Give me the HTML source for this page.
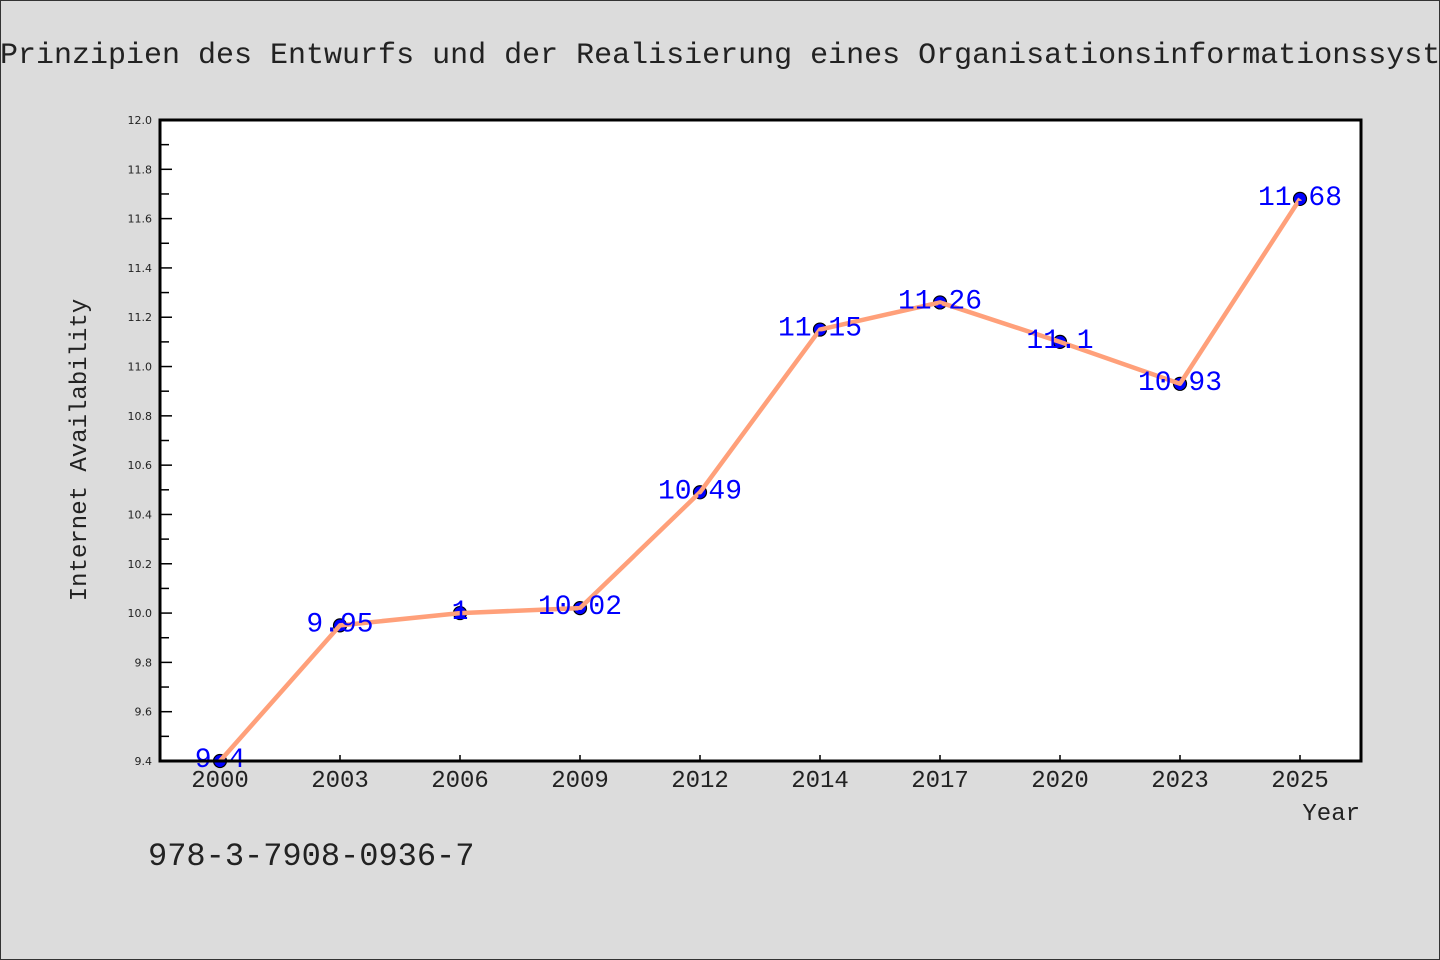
<!DOCTYPE html>
<html><head><meta charset="utf-8"><style>
body{margin:0;background:#dcdcdc;}
svg{display:block;}
text{font-family:"WenQuanYi Zen Hei Mono","WenQuanYi Zen Hei","Liberation Mono",monospace;}
</style></head><body>
<svg width="1440" height="960" xmlns="http://www.w3.org/2000/svg">
<rect x="0.5" y="0.5" width="1439" height="959" fill="#dcdcdc" stroke="#333"/>
<text x="0" y="63" font-size="30" fill="#222">Prinzipien des Entwurfs und der Realisierung eines Organisationsinformationssystems</text>
<rect x="160" y="120" width="1201" height="641" fill="#fff"/>
<g id="ticks"></g>
<g id="marks"></g>
<rect x="160" y="120" width="1201" height="641" fill="none" stroke="#000" stroke-width="3"/>
<text x="86" y="450" font-size="24" fill="#222" text-anchor="middle" transform="rotate(-90 86 450)">Internet Availability</text>
<text x="1360" y="820" font-size="24" fill="#222" text-anchor="end">Year</text>
<text x="148" y="865" font-size="32" fill="#222">978-3-7908-0936-7</text>
</svg>
<script>
const categories=["2000","2003","2006","2009","2012","2014","2017","2020","2023","2025"];
const values=[9.4,9.95,10.0,10.02,10.49,11.15,11.26,11.1,10.93,11.68];
const labels=["9.4","9.95","1","10.02","10.49","11.15","11.26","11.1","10.93","11.68"];
const yTicks=["9.4","9.6","9.8","10.0","10.2","10.4","10.6","10.8","11.0","11.2","11.4","11.6","11.8","12.0"];
const NS="http://www.w3.org/2000/svg";
const yMin=9.4,yMax=12.0,plotTop=120,plotBot=761;
function y(v){return plotBot-(v-yMin)/(yMax-yMin)*(plotBot-plotTop);}
function x(i){return 220+i*120;}
function mk(tag,attrs,parent){const e=document.createElementNS(NS,tag);for(const k in attrs)e.setAttribute(k,attrs[k]);parent.appendChild(e);return e;}
const tk=document.getElementById('ticks'),mg=document.getElementById('marks');
yTicks.forEach((t,i)=>{
 const v=parseFloat(t),yy=y(v);
 const l=mk('line',{x1:160,x2:172,y1:yy,y2:yy,stroke:'#000','stroke-width':1.5},tk);
 
 
 const tx=mk('text',{x:152,y:yy+4,'font-size':11,fill:'#222','text-anchor':'end',style:'font-family:"DejaVu Sans",sans-serif'},tk);
 tx.textContent=t;
 
 
 if(i<yTicks.length-1){const ym=y(v+0.1);
  const m=mk('line',{x1:160,x2:169,y1:ym,y2:ym,stroke:'#000','stroke-width':1.5},tk);
  
  }
});
categories.forEach((c,i)=>{
 const l=mk('line',{x1:x(i),x2:x(i),y1:plotBot,y2:plotBot-6,stroke:'#000','stroke-width':1.5},tk);
 
 
 const tx=mk('text',{x:x(i),y:plotBot+26,'font-size':24,fill:'#222','text-anchor':'middle'},tk);
 tx.textContent=c;
 
 
});
values.forEach((v,i)=>{
 const c=mk('circle',{cx:x(i),cy:y(v),r:6.5,fill:'#0000ff',stroke:'#000','stroke-width':1.2},mg);
 
 
});
const line=mk('polyline',{points:values.map((v,i)=>x(i)+','+y(v)).join(' '),fill:'none',stroke:'#ffa07a','stroke-width':4.5,'stroke-linejoin':'round'},mg);


values.forEach((v,i)=>{
 const t=mk('text',{x:x(i),y:y(v)+6,'font-size':28,fill:'#0000ff','text-anchor':'middle'},mg);
 t.textContent=labels[i];
 
 
});
</script>
</body></html>
